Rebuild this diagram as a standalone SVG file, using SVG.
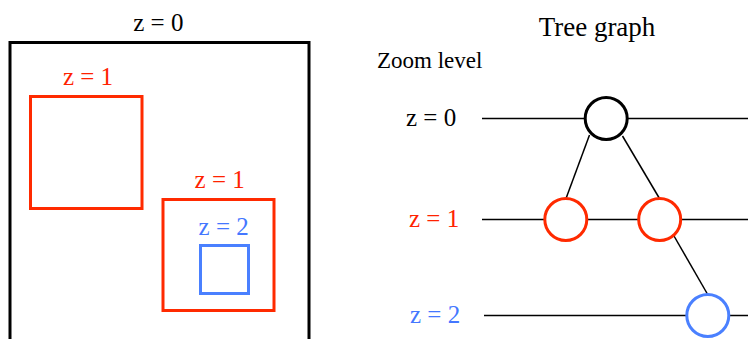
<svg xmlns="http://www.w3.org/2000/svg" width="748" height="339" viewBox="0 0 748 339">
<style>
text{font-family:"Liberation Serif","Times New Roman",serif;font-size:25px}
.k{fill:#000}.r{fill:#ff2200}.b{fill:#4477ff}
.box{fill:none;stroke-width:3}
.lvl{stroke:#000;stroke-width:1.5;fill:none}
.edge{stroke:#000;stroke-width:1.5;fill:none}
.node{fill:#fff;stroke-width:3}
</style>
<rect width="748" height="339" fill="#fff"/>
<g id="zoom-map">
<text x="158.3" y="31" text-anchor="middle" class="k">z = 0</text>
<rect x="10" y="42.5" width="299" height="310" class="box" stroke="#000"/>
<text x="88" y="85" text-anchor="middle" class="r">z = 1</text>
<rect x="30.5" y="96.5" width="111.5" height="112" class="box" stroke="#ff2a00"/>
<text x="219.7" y="188" text-anchor="middle" class="r">z = 1</text>
<rect x="163" y="199.5" width="111" height="111" class="box" stroke="#ff2a00"/>
<text x="223.7" y="235" text-anchor="middle" class="b">z = 2</text>
<rect x="200.5" y="245.5" width="48" height="48" class="box" stroke="#4a80ff"/>
</g>
<text x="597" y="36" text-anchor="middle" class="k" style="font-size:27px">Tree graph</text>
<text x="377" y="68" class="k" style="font-size:23px">Zoom level</text>
<text x="406" y="126" class="k">z = 0</text>
<text x="409" y="227" class="r">z = 1</text>
<text x="410" y="323" class="b">z = 2</text>
<g id="connectors">
<line x1="482" y1="118.5" x2="748" y2="118.5" class="lvl"/>
<line x1="482" y1="219.5" x2="748" y2="219.5" class="lvl"/>
<line x1="484" y1="315.5" x2="748" y2="315.5" class="lvl"/>
<line x1="589.5" y1="135" x2="566" y2="198.5" class="edge"/>
<line x1="622.5" y1="136" x2="659.5" y2="198.5" class="edge"/>
<line x1="674" y1="236" x2="707.7" y2="294.5" class="edge"/>
</g>
<g id="node-root"><circle cx="606.2" cy="118.5" r="21" class="node" stroke="#000"/></g>
<g id="node-z1-a"><circle cx="565.8" cy="219.5" r="21" class="node" stroke="#ff2a00"/></g>
<g id="node-z1-b"><circle cx="659.7" cy="219.5" r="21" class="node" stroke="#ff2a00"/></g>
<g id="node-z2"><circle cx="707.8" cy="315.5" r="21" class="node" stroke="#4a80ff"/></g>
</svg>
